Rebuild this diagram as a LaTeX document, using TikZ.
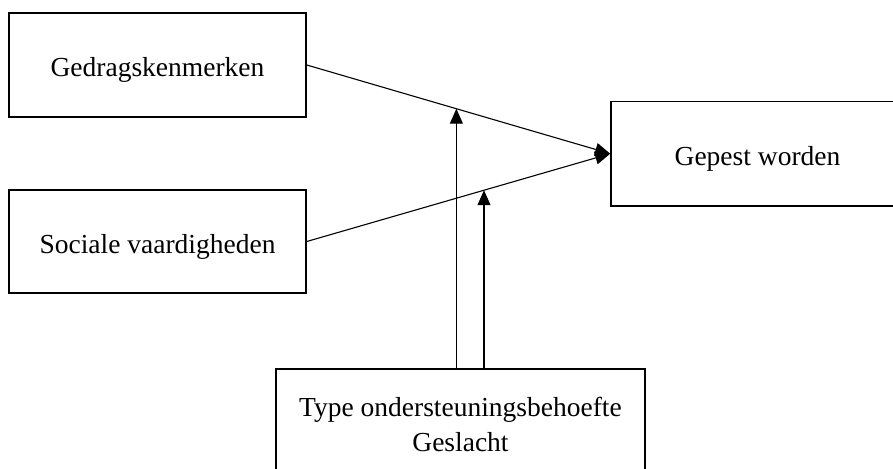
\documentclass[tikz,border=0pt]{standalone}
\usepackage{fontspec}
\setmainfont{Liberation Serif}
\usetikzlibrary{arrows.meta, positioning, calc}

\tikzset{
  varbox/.style={draw, line width=1.6pt, minimum height=104pt, inner sep=0pt, font=\fontsize{27.5}{35}\selectfont},
  onebox/.style={varbox, text height=24pt, text depth=0pt},
  pad/.style={-{Triangle[length=15pt, width=13pt]}, line width=1.1pt},
}

\begin{document}
\begin{tikzpicture}[x=1pt, y=-1pt]
  \useasboundingbox (0,0) rectangle (893,468);
  \clip (0,0) rectangle (893,468);

  % variables
  \node[onebox, minimum width=297pt] (gedrag) at (157.5,65) {Gedragskenmerken};
  \node[onebox, minimum width=297pt, minimum height=103pt] (sociaal) at (157.5,241.5) {Sociale vaardigheden};
  \node[onebox, minimum width=293pt] (gepest) at (757.5,153.7) {Gepest worden};
  \node[varbox, anchor=north, minimum width=369pt, align=center, inner ysep=28pt] (moderator) at (460.5,368) {Type ondersteuningsbehoefte\\Geslacht};

  % paths
  \draw[pad] (gedrag.east) -- coordinate[pos=0.493] (mod1) (gepest.west);
  \draw[pad] (sociaal.east) -- coordinate[pos=0.584] (mod2) (gepest.west);

  % moderation
  \draw[pad] (moderator.north -| mod1) -- (mod1);
  \draw[pad] (moderator.north -| mod2) -- (mod2);
\end{tikzpicture}
\end{document}
